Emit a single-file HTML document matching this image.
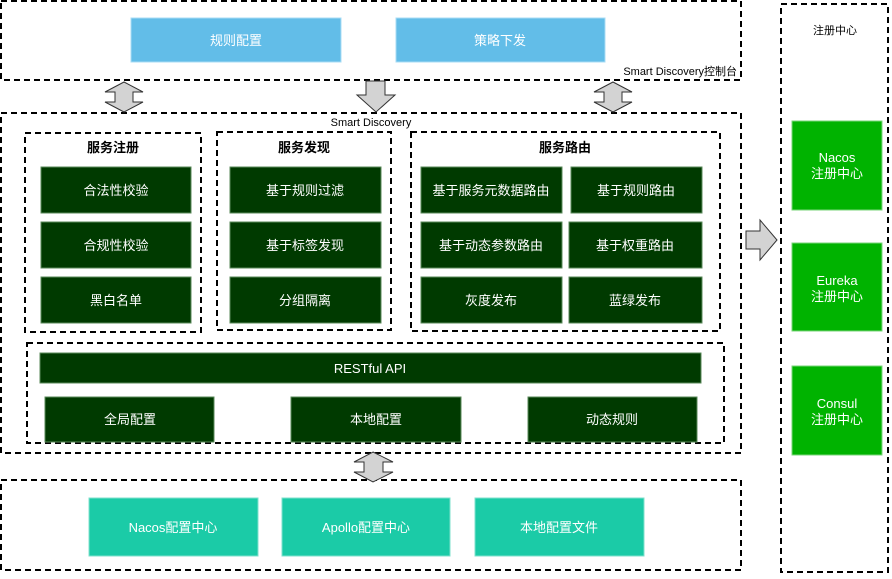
<!DOCTYPE html>
<html><head><meta charset="utf-8"><style>
html,body{margin:0;padding:0;background:#fff;}
svg text{font-family:"Liberation Sans","Noto Sans CJK SC",sans-serif;}
</style></head><body>
<svg width="892" height="574" viewBox="0 0 892 574" xmlns="http://www.w3.org/2000/svg">
<g fill="none" stroke="#000" stroke-width="2" stroke-dasharray="6 4">
<rect x="1" y="1" width="740" height="79"/>
<rect x="1" y="113" width="740" height="340"/>
<rect x="25" y="133" width="176" height="199"/>
<rect x="217" y="132" width="174" height="198"/>
<rect x="411" y="132" width="309" height="199"/>
<rect x="27" y="343" width="697" height="100"/>
<rect x="1" y="480" width="740" height="90"/>
<rect x="781" y="4" width="107" height="568"/>
</g>
<g font-size="13" fill="#fff" text-anchor="middle">
<rect x="131" y="18" width="210" height="44" fill="#62bde8" stroke="#a8dcf5"/>
<text x="236" y="45">规则配置</text>
<rect x="396" y="18" width="209" height="44" fill="#62bde8" stroke="#a8dcf5"/>
<text x="500" y="45">策略下发</text>
</g>
<g font-size="11" fill="#000">
<text x="737" y="75" text-anchor="end">Smart Discovery控制台</text>
<text x="371" y="126" text-anchor="middle">Smart Discovery</text>
<text x="835" y="34" text-anchor="middle">注册中心</text>
</g>
<g font-size="13" fill="#000" text-anchor="middle" font-weight="bold">
<text x="113" y="152">服务注册</text>
<text x="304" y="152">服务发现</text>
<text x="565" y="152">服务路由</text>
</g>
<g fill="#003a00" stroke="#5a8a5a" stroke-width="1">
<rect x="41" y="167" width="150" height="46"/>
<rect x="41" y="222" width="150" height="46"/>
<rect x="41" y="277" width="150" height="46"/>
<rect x="230" y="167" width="151" height="46"/>
<rect x="230" y="222" width="151" height="46"/>
<rect x="230" y="277" width="151" height="46"/>
<rect x="421" y="167" width="141" height="46"/>
<rect x="571" y="167" width="131" height="46"/>
<rect x="421" y="222" width="141" height="46"/>
<rect x="569" y="222" width="133" height="46"/>
<rect x="421" y="277" width="141" height="46"/>
<rect x="569" y="277" width="133" height="46"/>
<rect x="40" y="353" width="661" height="30"/>
<rect x="45" y="397" width="169" height="45"/>
<rect x="291" y="397" width="170" height="45"/>
<rect x="528" y="397" width="169" height="45"/>
</g>
<g font-size="13" fill="#fff" text-anchor="middle">
<text x="116" y="195">合法性校验</text>
<text x="116" y="250">合规性校验</text>
<text x="116" y="305">黑白名单</text>
<text x="305" y="195">基于规则过滤</text>
<text x="305" y="250">基于标签发现</text>
<text x="305" y="305">分组隔离</text>
<text x="491" y="195">基于服务元数据路由</text>
<text x="636" y="195">基于规则路由</text>
<text x="491" y="250">基于动态参数路由</text>
<text x="635" y="250">基于权重路由</text>
<text x="491" y="305">灰度发布</text>
<text x="635" y="305">蓝绿发布</text>
<text x="370" y="373">RESTful API</text>
<text x="130" y="424">全局配置</text>
<text x="376" y="424">本地配置</text>
<text x="612" y="424">动态规则</text>
</g>
<g fill="#1bcba7" stroke="#7fe0cc">
<rect x="89" y="498" width="169" height="58"/>
<rect x="282" y="498" width="168" height="58"/>
<rect x="475" y="498" width="169" height="58"/>
</g>
<g font-size="13" fill="#fff" text-anchor="middle">
<text x="173" y="532">Nacos配置中心</text>
<text x="366" y="532">Apollo配置中心</text>
<text x="559" y="532">本地配置文件</text>
</g>
<g fill="#00b300" stroke="#7ad67a">
<rect x="792" y="121" width="90" height="89"/>
<rect x="792" y="243" width="90" height="88"/>
<rect x="792" y="366" width="90" height="89"/>
</g>
<g font-size="13" fill="#fff" text-anchor="middle">
<text x="837" y="162">Nacos</text><text x="837" y="178">注册中心</text>
<text x="837" y="285">Eureka</text><text x="837" y="301">注册中心</text>
<text x="837" y="408">Consul</text><text x="837" y="424">注册中心</text>
</g>
<g fill="#d3d3d3" stroke="#333" stroke-width="1">
<path d="M124,82 L143,92 L133,92 L133,102 L143,102 L124,112 L105,102 L115,102 L115,92 L105,92 Z"/>
<path d="M613,82 L632,92 L622,92 L622,102 L632,102 L613,112 L594,102 L604,102 L604,92 L594,92 Z"/>
<path d="M366,81 L385,81 L385,95 L395,95 L376,112 L357,95 L366,95 Z"/>
<path d="M373,452 L393,462 L383,462 L383,472 L393,472 L373,482 L354,472 L364,472 L364,462 L354,462 Z"/>
<path d="M746,231 L760,231 L760,220 L777,240 L760,260 L760,249 L746,249 Z"/>
</g>
</svg>
</body></html>
